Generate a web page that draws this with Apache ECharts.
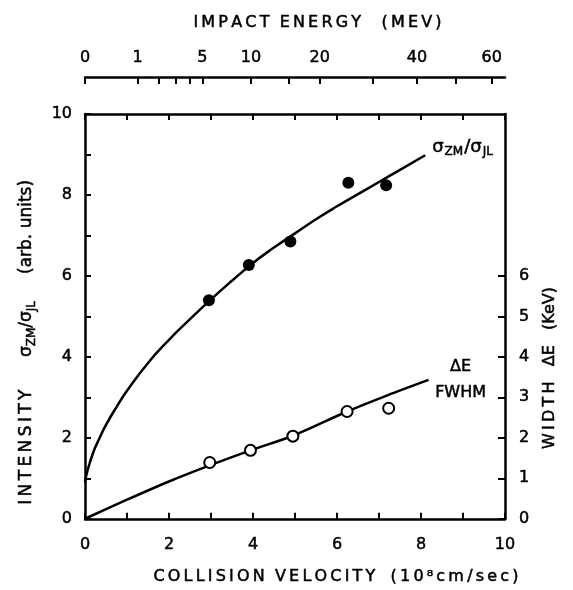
<!DOCTYPE html>
<html>
<head>
<meta charset="utf-8">
<script src="https://cdn.jsdelivr.net/npm/echarts@6/dist/echarts.min.js"></script>
<style>
  html, body { margin: 0; padding: 0; background: #fff; }
  #chart { width: 573px; height: 590px; }
</style>
</head>
<body>
<div id="chart"></div>
<script>
// Cross-section ratio sigma_ZM / sigma_JL (arb. units) vs collision velocity
const ratioPointV   = [2.95, 3.90, 4.89, 6.27, 7.17];
const ratioPointVal = [5.40, 6.27, 6.85, 8.30, 8.24];

// Hand-drawn guide curve through the ratio points
const ratioFitV   = [0, 0.05, 0.2, 0.35, 0.5, 0.75, 1.0, 1.5, 2.0, 2.5, 3.0, 3.5, 4.0, 4.5, 5.0, 5.5, 6.0, 6.5, 7.0, 7.5, 8.1];
const ratioFitVal = [0.9, 1.15, 1.65, 2.0, 2.32, 2.76, 3.16, 3.85, 4.42, 4.93, 5.42, 5.88, 6.32, 6.7, 7.05, 7.4, 7.72, 8.02, 8.32, 8.62, 8.98];

// Line width Delta E (FWHM, keV) vs collision velocity
const widthPointV   = [2.97, 3.94, 4.95, 6.24, 7.23];
const widthPointVal = [1.39, 1.69, 2.04, 2.65, 2.73];

const widthFitV   = [0, 1, 2, 3, 3.94, 4.95, 6.24, 7.2, 8.18];
const widthFitVal = [0, 0.47, 0.92, 1.33, 1.69, 2.05, 2.65, 3.05, 3.43];

// Upper scale: impact energy (MeV); velocity = K * sqrt(E)
const K = 1.25;
const energyTicks  = [0, 1, 2, 3, 4, 5, 10, 15, 20, 30, 40, 50, 60];
const energyLabels = [0, 1, 5, 10, 20, 40, 60];
const widthTicks   = [0, 1, 2, 3, 4, 5, 6];

const FONT = 'DejaVu Sans';
const INK = '#000';

const pairs = (xs, ys) => xs.map((x, i) => [x, ys[i]]);
const toVel = e => K * Math.sqrt(e);
// lettering with a thin space between characters
const spaced = s => s.split('').join('\u2009');

const axisLineStyle = { color: INK, width: 2.5 };
const tickStyle = { color: INK, width: 2 };
const heavy = { textBorderColor: INK, textBorderWidth: 0.5 };
const labelStyle = Object.assign({ color: INK, fontFamily: FONT, fontSize: 16 }, heavy);
const titleStyle = Object.assign({ color: INK, fontFamily: FONT, fontSize: 16 }, heavy);
const evenOnly = v => (Math.round(v) % 2 === 0 ? String(Math.round(v)) : '');

const chart = echarts.init(document.getElementById('chart'), null, { renderer: 'canvas' });

chart.setOption({
  animation: false,
  backgroundColor: '#fff',
  grid: { left: 85, right: 68, top: 114, bottom: 68 },
  xAxis: [
    {
      type: 'value', position: 'bottom', min: 0, max: 10, interval: 1,
      axisLine: { show: true, onZero: false, lineStyle: axisLineStyle },
      axisTick: { show: true, inside: true, length: 6, lineStyle: tickStyle },
      axisLabel: Object.assign({ margin: 18, formatter: evenOnly }, labelStyle),
      splitLine: { show: false },
      name: spaced('COLLISION') + '  ' + spaced('VELOCITY') + '   ' + spaced('(10⁸cm/sec)'),
      nameLocation: 'middle', nameGap: 50,
      nameTextStyle: Object.assign({ padding: [0, 0, 0, 82] }, titleStyle)
    },
    {
      // top edge of the frame
      type: 'value', position: 'top', min: 0, max: 10, interval: 1,
      axisLine: { show: true, onZero: false, lineStyle: axisLineStyle },
      axisTick: { show: true, inside: true, length: 6, lineStyle: tickStyle },
      axisLabel: { show: false },
      splitLine: { show: false }
    },
    {
      // impact energy scale above the frame
      type: 'value', position: 'top', offset: 37, min: 0, max: 10,
      axisLine: { show: true, onZero: false, lineStyle: axisLineStyle },
      axisTick: { show: true, inside: true, length: 7, lineStyle: tickStyle,
                  customValues: energyTicks.map(toVel) },
      axisLabel: Object.assign({
        margin: 11,
        customValues: energyLabels.map(toVel),
        formatter: v => String(Math.round((v / K) * (v / K)))
      }, labelStyle),
      splitLine: { show: false },
      name: spaced('IMPACT') + '  ' + spaced('ENERGY') + '    ' + spaced('(MEV)'),
      nameLocation: 'middle', nameGap: 46,
      nameTextStyle: Object.assign({ padding: [0, 0, 0, 45] }, titleStyle)
    }
  ],
  yAxis: [
    {
      type: 'value', position: 'left', min: 0, max: 10, interval: 1,
      axisLine: { show: true, onZero: false, lineStyle: axisLineStyle },
      axisTick: { show: true, inside: true, length: 6, lineStyle: tickStyle },
      axisLabel: Object.assign({ margin: 13, formatter: evenOnly }, labelStyle),
      splitLine: { show: false },
      name: '{t|' + spaced('INTENSITY') + '      σ}{s|ZM}{t|/σ}{s|JL}{t|     (arb. units)}',
      nameLocation: 'middle', nameGap: 47, nameRotate: 90,
      nameTextStyle: Object.assign({
        padding: [0, 52, 0, 0],
        rich: {
          t: Object.assign({ color: INK, fontFamily: FONT, fontSize: 17, lineHeight: 22 }, heavy),
          s: Object.assign({ color: INK, fontFamily: FONT, fontSize: 12, lineHeight: 22, padding: [10, 0, 0, 0] }, heavy)
        }
      }, titleStyle)
    },
    {
      type: 'value', position: 'right', min: 0, max: 10, interval: 1,
      axisLine: { show: true, onZero: false, lineStyle: axisLineStyle },
      axisTick: { show: true, inside: true, length: 7, lineStyle: tickStyle,
                  customValues: widthTicks },
      axisLabel: Object.assign({ margin: 14, customValues: widthTicks }, labelStyle),
      splitLine: { show: false }
    }
  ],
  graphic: [
    {
      type: 'text', x: 550, y: 368, rotation: Math.PI / 2,
      style: {
        text: spaced('WIDTH') + '   ΔE   (KeV)', fill: INK, font: '16px "DejaVu Sans"',
        align: 'center', verticalAlign: 'middle', stroke: INK, lineWidth: 0.5
      }
    }
  ],
  series: [
    {
      name: 'ratio fit', type: 'line', xAxisIndex: 0, yAxisIndex: 0,
      data: pairs(ratioFitV, ratioFitVal), smooth: 0.5,
      showSymbol: false, symbol: 'none',
      lineStyle: { color: INK, width: 2.5 },
      endLabel: {
        show: true, distance: 7, offset: [0, -8],
        formatter: '{t|σ}{s|ZM}{t|/σ}{s|JL}',
        rich: {
          t: Object.assign({ color: INK, fontFamily: FONT, fontSize: 18, lineHeight: 22 }, heavy),
          s: Object.assign({ color: INK, fontFamily: FONT, fontSize: 12, lineHeight: 22, padding: [9, 1, 0, 1] }, heavy)
        }
      },
      z: 2
    },
    {
      name: 'ratio', type: 'scatter', xAxisIndex: 0, yAxisIndex: 0,
      data: pairs(ratioPointV, ratioPointVal),
      symbol: 'circle', symbolSize: 12,
      itemStyle: { color: INK, opacity: 1 },
      z: 3
    },
    {
      name: 'width fit', type: 'line', xAxisIndex: 0, yAxisIndex: 1,
      data: pairs(widthFitV, widthFitVal), smooth: 0.3,
      showSymbol: false, symbol: 'none',
      lineStyle: { color: INK, width: 2.5 },
      endLabel: {
        show: true, distance: 2, offset: [0, 0],
        formatter: '{a|ΔE}\n{a|FWHM}',
        rich: {
          a: Object.assign({ color: INK, fontFamily: FONT, fontSize: 16, lineHeight: 26, width: 60, align: 'center' }, heavy)
        }
      },
      z: 2
    },
    {
      name: 'width', type: 'scatter', xAxisIndex: 0, yAxisIndex: 1,
      data: pairs(widthPointV, widthPointVal),
      symbol: 'circle', symbolSize: 11,
      itemStyle: { color: '#fff', borderColor: INK, borderWidth: 2, opacity: 1 },
      z: 3
    }
  ]
});
</script>
</body>
</html>
